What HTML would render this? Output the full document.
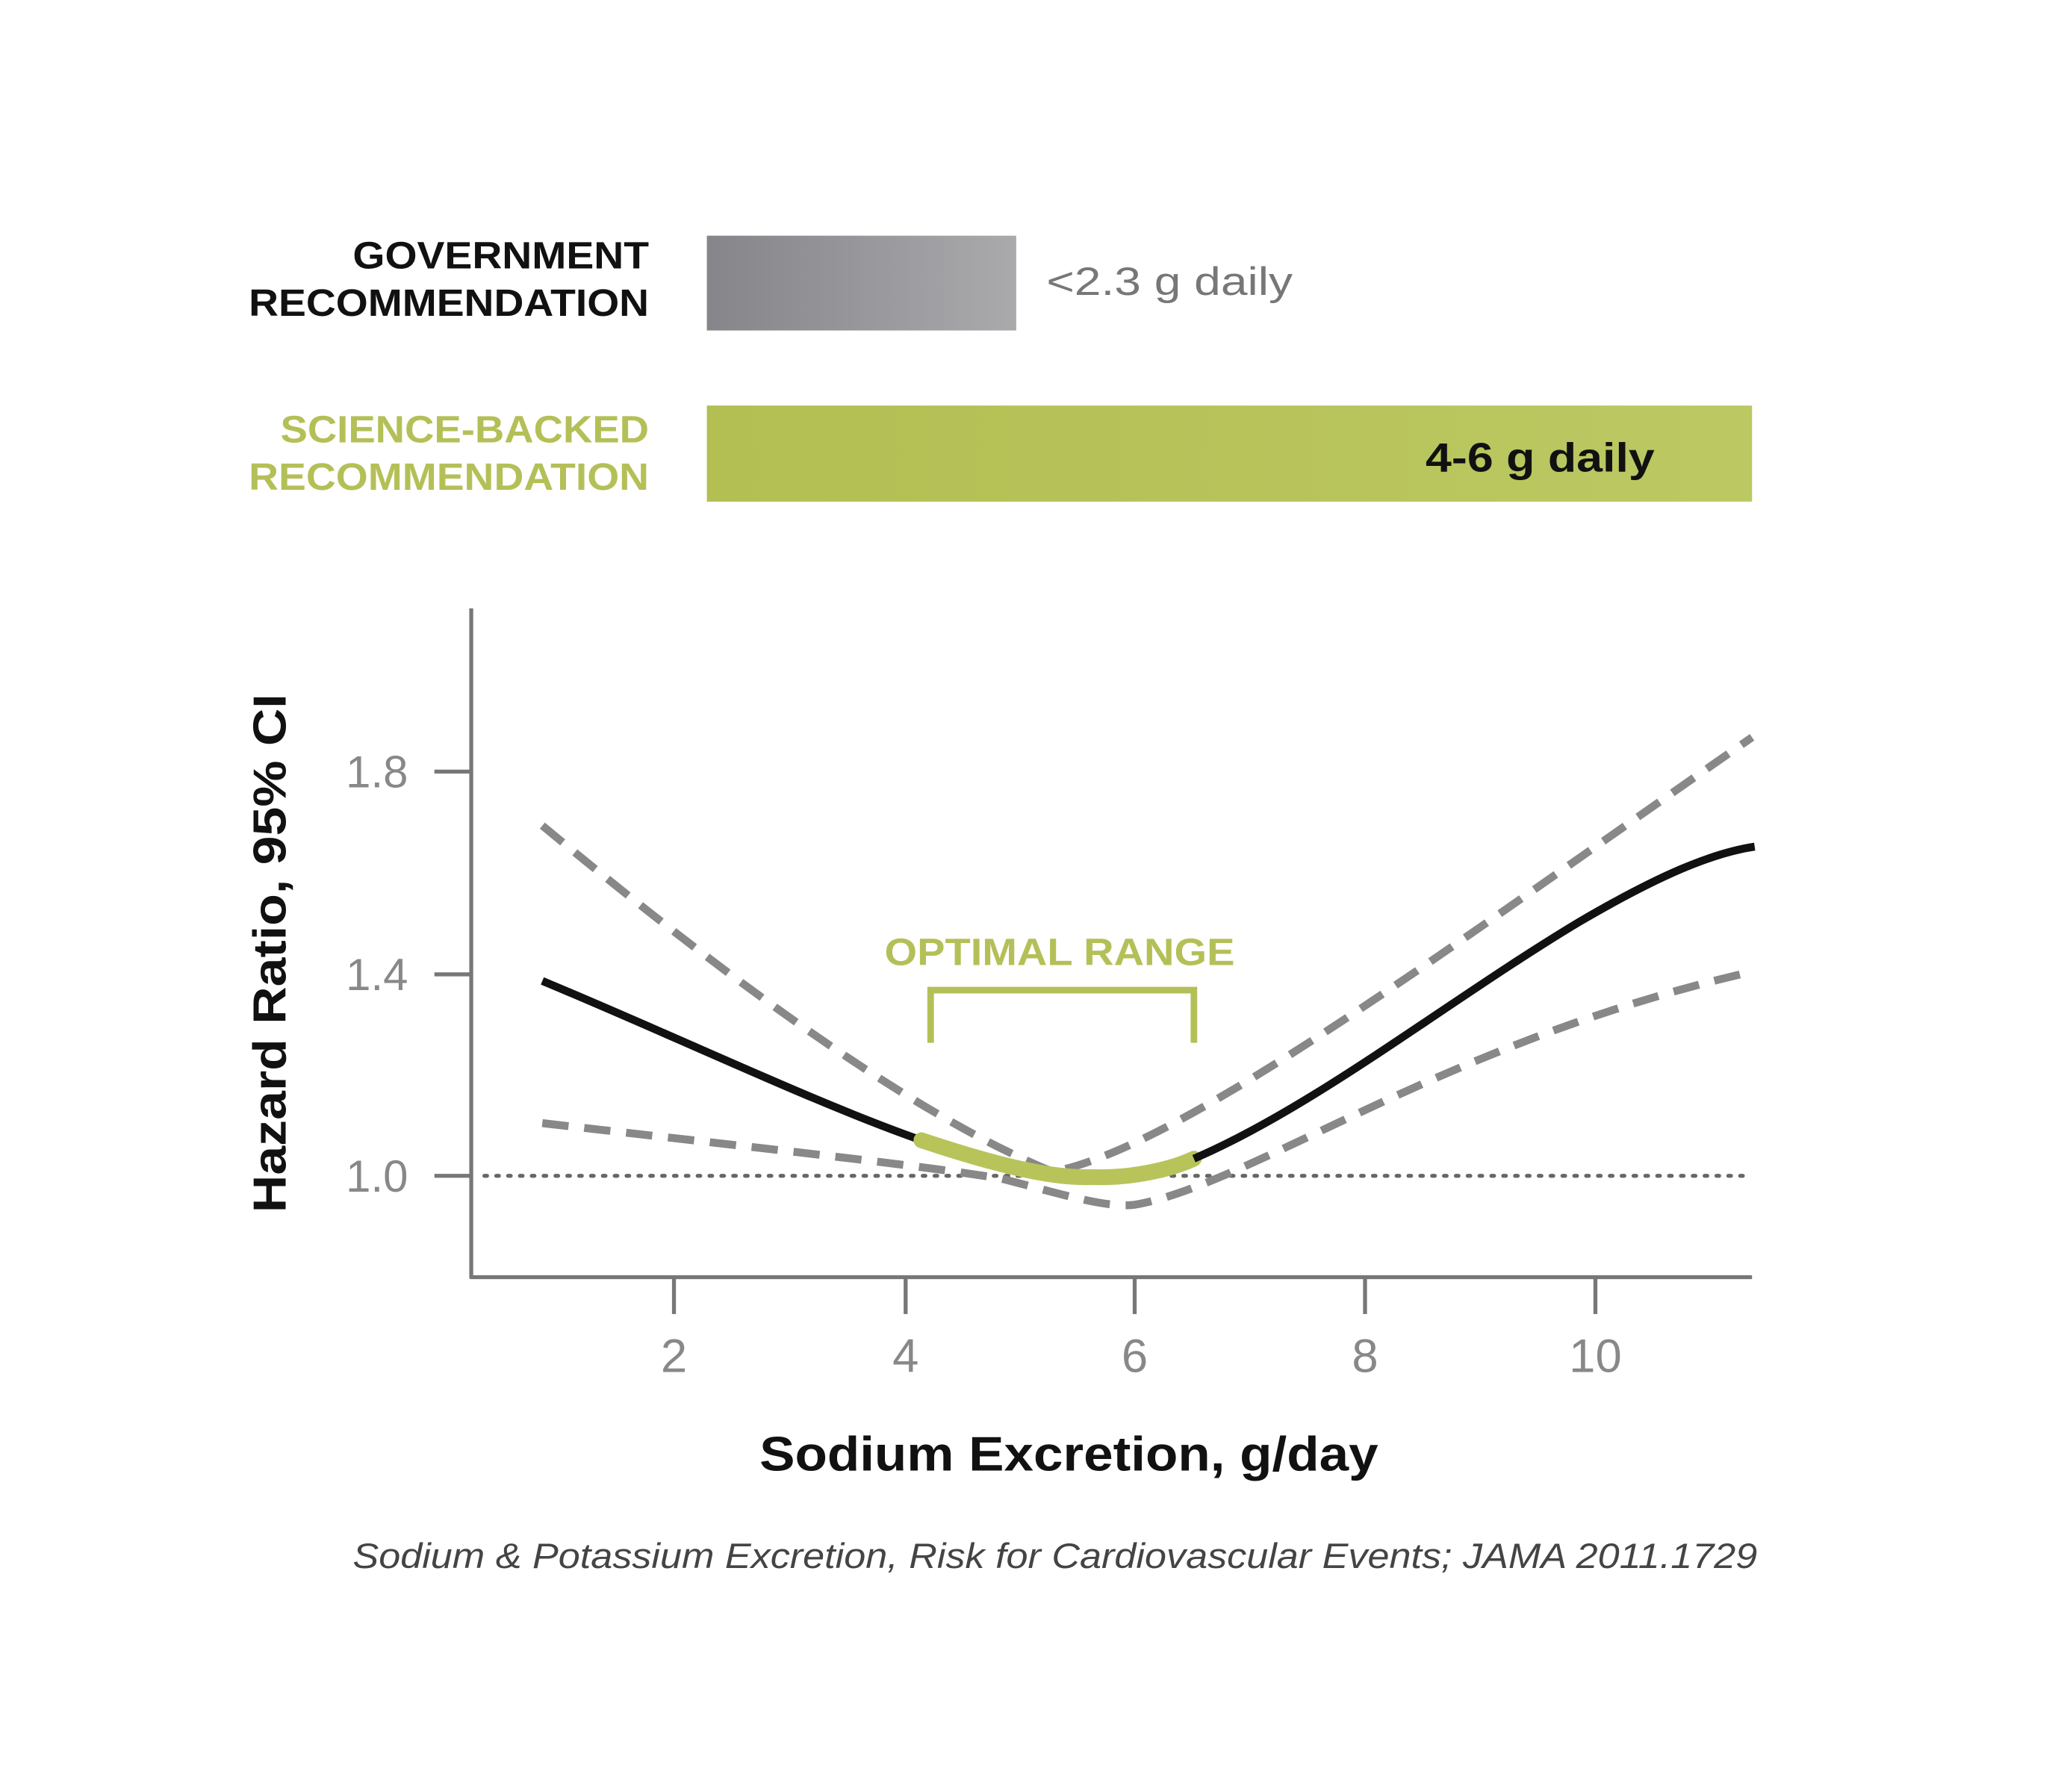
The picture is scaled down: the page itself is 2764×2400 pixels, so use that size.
<!DOCTYPE html>
<html><head><meta charset="utf-8"><style>
html,body{margin:0;padding:0;background:#fff;}
svg{display:block;}
text{font-family:"Liberation Sans",sans-serif;}
</style></head><body>
<svg width="2764" height="2400" viewBox="0 0 1568 1361" preserveAspectRatio="none" xmlns="http://www.w3.org/2000/svg">
<defs>
<linearGradient id="g1" x1="0" x2="1" y1="0" y2="0"><stop offset="0" stop-color="#85858a"/><stop offset="1" stop-color="#aaaaad"/></linearGradient>
<linearGradient id="g2" x1="0" x2="1" y1="0" y2="0"><stop offset="0" stop-color="#b3bf52"/><stop offset="1" stop-color="#bcc862"/></linearGradient>
</defs>
<rect width="1568" height="1361" fill="#fff"/>
<text x="268" y="204" textLength="225" lengthAdjust="spacingAndGlyphs" font-size="29" font-weight="bold" fill="#111">GOVERNMENT</text>
<text x="189" y="240" textLength="304" lengthAdjust="spacingAndGlyphs" font-size="29" font-weight="bold" fill="#111">RECOMMENDATION</text>
<rect x="537" y="179" width="235" height="72" fill="url(#g1)"/>
<text x="795" y="224" textLength="187" lengthAdjust="spacingAndGlyphs" font-size="30" fill="#777">&lt;2.3 g daily</text>
<text x="213" y="336" textLength="280" lengthAdjust="spacingAndGlyphs" font-size="29" font-weight="bold" fill="#b4c057">SCIENCE-BACKED</text>
<text x="189" y="372" textLength="304" lengthAdjust="spacingAndGlyphs" font-size="29" font-weight="bold" fill="#b4c057">RECOMMENDATION</text>
<rect x="537" y="308" width="794" height="73" fill="url(#g2)"/>
<text x="1083" y="358" textLength="174" lengthAdjust="spacingAndGlyphs" font-size="31" font-weight="bold" fill="#111">4-6 g daily</text>
<g stroke="#777" stroke-width="3" fill="none">
<line x1="358" y1="462" x2="358" y2="971"/>
<line x1="357" y1="970" x2="1331" y2="970"/>
<line x1="330" y1="586" x2="358" y2="586"/>
<line x1="330" y1="740" x2="358" y2="740"/>
<line x1="330" y1="893" x2="358" y2="893"/>
<line x1="512" y1="970" x2="512" y2="998"/>
<line x1="688" y1="970" x2="688" y2="998"/>
<line x1="862" y1="970" x2="862" y2="998"/>
<line x1="1037" y1="970" x2="1037" y2="998"/>
<line x1="1212" y1="970" x2="1212" y2="998"/>
</g>
<g font-size="34" fill="#888" text-anchor="end">
<text x="310" y="598">1.8</text><text x="310" y="752">1.4</text><text x="310" y="905">1.0</text>
</g>
<g font-size="36" fill="#888" text-anchor="middle">
<text x="512" y="1042">2</text><text x="688" y="1042">4</text><text x="862" y="1042">6</text><text x="1037" y="1042">8</text><text x="1212" y="1042">10</text>
</g>
<line x1="368" y1="893" x2="1331" y2="893" stroke="#666" stroke-width="3" stroke-dasharray="2,7" stroke-linecap="round"/>
<g fill="none" stroke="#888" stroke-width="6" stroke-dasharray="20,12">
<path d="M412,627 C560,750 700,850 800,890 C900,870 1100,720 1331,560"/>
<path d="M412,853 C560,870 700,885 760,895 C800,905 840,918 862,915 C950,900 1100,790 1331,738"/>
</g>
<path d="M412,745 C520,790 620,838 700,866" fill="none" stroke="#111" stroke-width="6"/>
<path d="M700,866 C760,886 800,895 830,894 C860,895 890,888 907,880" fill="none" stroke="#b8c45a" stroke-width="12" stroke-linecap="round"/>
<path d="M907,880 C1000,840 1100,760 1200,700 C1260,665 1300,648 1333,643" fill="none" stroke="#111" stroke-width="6"/>
<text x="672" y="733" textLength="266" lengthAdjust="spacingAndGlyphs" font-size="29" font-weight="bold" fill="#b4c057">OPTIMAL RANGE</text>
<path d="M707,792 L707,752 L907,752 L907,792" fill="none" stroke="#b4c057" stroke-width="5"/>
<text transform="translate(217,921) rotate(-90)" textLength="394" lengthAdjust="spacingAndGlyphs" font-size="35" font-weight="bold" fill="#111">Hazard Ratio, 95% CI</text>
<text x="577" y="1117" textLength="470" lengthAdjust="spacingAndGlyphs" font-size="37" font-weight="bold" fill="#111">Sodium Excretion, g/day</text>
<text x="268" y="1191" textLength="1067" lengthAdjust="spacingAndGlyphs" font-size="27" font-style="italic" fill="#444">Sodium &amp; Potassium Excretion, Risk for Cardiovascular Events; JAMA 2011.1729</text>
</svg>
</body></html>
